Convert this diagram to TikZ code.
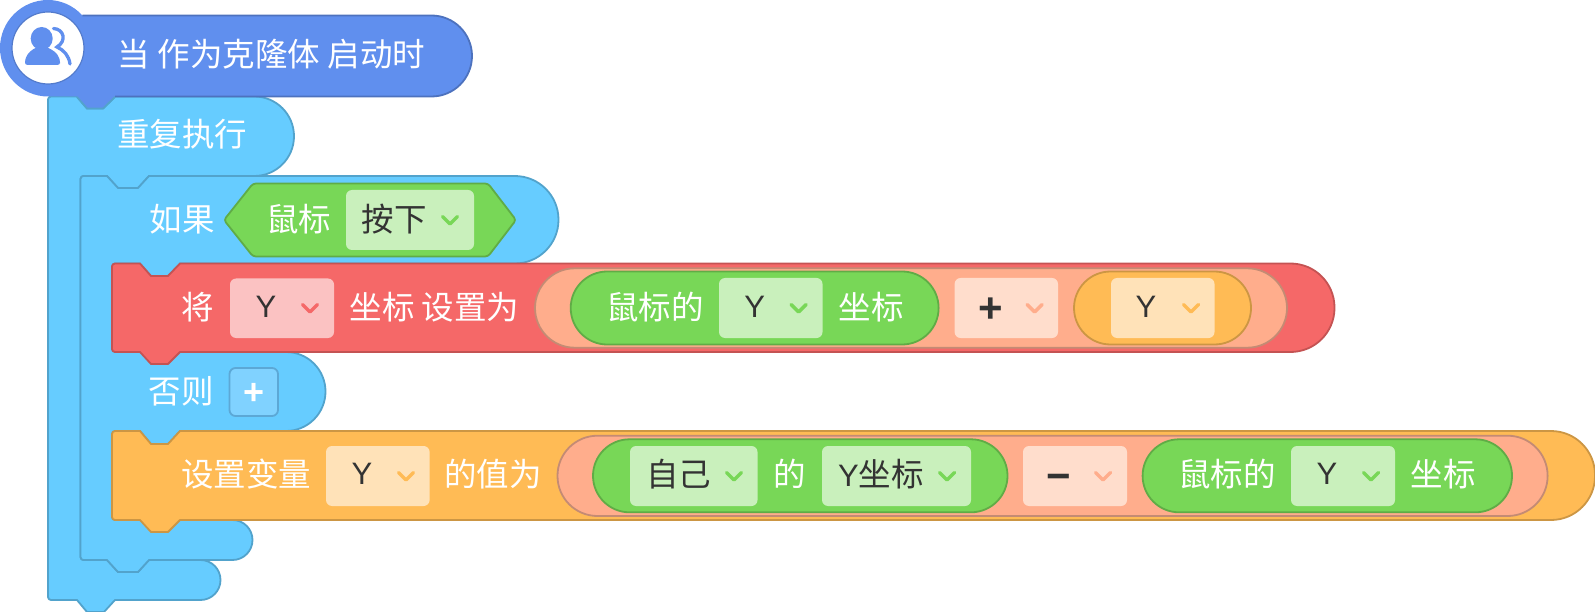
\documentclass[tikz,border=0pt]{standalone}
\usepackage{fontspec}
\setmainfont{Noto Sans CJK SC}
\newfontfamily\latf{Liberation Sans}
\definecolor{hatF}{HTML}{608FEE}\definecolor{hatD}{HTML}{4D72BE}
\definecolor{bluF}{HTML}{66CCFF}\definecolor{bluD}{HTML}{52A3CC}\definecolor{bluL}{HTML}{80D2FF}\definecolor{bluB}{HTML}{5CA8D6}
\definecolor{redF}{HTML}{F56868}\definecolor{redD}{HTML}{C45353}\definecolor{redL}{HTML}{FBC2C2}
\definecolor{orgF}{HTML}{FFBB55}\definecolor{orgD}{HTML}{CC9644}\definecolor{orgL}{HTML}{FFE2B8}
\definecolor{grnF}{HTML}{78D757}\definecolor{grnD}{HTML}{60AC46}\definecolor{grnL}{HTML}{C9F0BC}
\definecolor{salF}{HTML}{FFAD8C}\definecolor{salD}{HTML}{C48B74}\definecolor{salL}{HTML}{FFDDCC}
\definecolor{dark}{HTML}{333333}
\tikzset{
  blk/.style={line width=1.8pt,line join=round},
  wt/.style={text=white,font=\fontsize{32.5}{33}\selectfont,anchor=base,inner sep=0pt},
  dk/.style={text=dark,font=\fontsize{32.5}{33}\selectfont,anchor=base,inner sep=0pt},
  ya/.style={text=dark,font=\latf\fontsize{31}{31}\selectfont,anchor=base,inner sep=0pt},
  op/.style={text=dark,font=\latf\bfseries\fontsize{42}{42}\selectfont,anchor=base,inner sep=0pt},
  chev/.style={line width=3.5pt,line cap=round,line join=round,draw=#1},
}
\newcommand\fld[5]{\fill[#5,rounded corners=6pt] (#1,#3) rectangle (#2,#4);}
\newcommand\chv[3]{\draw[chev=#3] (#1-7.5,#2-3.5) -- (#1,#2+4) -- (#1+7.5,#2-3.5);}
\begin{document}
\begin{tikzpicture}[x=1pt,y=-1pt]
\useasboundingbox (0,0) rectangle (1595,612);
% outer forever C
\draw[blk,fill=bluF,draw=bluD] (52,96.5) -- (77,96.5) -- (87,108.5) -- (103,108.5) -- (115,96.5)
  [rounded corners=39.7pt] -- (294,96.5) -- (294,176) [sharp corners] -- (149,176) -- (138,188) -- (118,188) -- (107,176) -- (84,176)
  [rounded corners=3pt] -- (80.5,176) -- (80.5,560) [sharp corners] -- (107,560) -- (118,572) -- (138,572) -- (149,560)
  [rounded corners=20pt] -- (220.5,560) -- (220.5,600) [sharp corners] -- (115,600) -- (104,612) -- (87,612) -- (77,600)
  [rounded corners=3pt] -- (48,600) -- (48,96.5) -- (77,96.5);
% if/else C, with the tabs its two bars drop into the blocks below them
\draw[blk,fill=bluF,draw=bluD] (84,176) -- (107,176) -- (118,188) -- (138,188) -- (149,176)
  [rounded corners=43.7pt] -- (558.5,176) -- (558.5,263.5) [sharp corners] -- (180,263.5) -- (168,276) -- (151,276) -- (140,263.5) -- (116,263.5)
  [rounded corners=3pt] -- (112,263.5) -- (112,352) [sharp corners] -- (150,352)
  [rounded corners=39.5pt] -- (325.5,352) -- (325.5,431) [sharp corners] -- (180,431) -- (168,444) -- (151,444) -- (140,431) -- (116,431)
  [rounded corners=3pt] -- (112,431) -- (112,520) [sharp corners] -- (150,520)
  [rounded corners=20pt] -- (252.5,520) -- (252.5,560) [sharp corners] -- (149,560) -- (138,572) -- (118,572) -- (107,560)
  [rounded corners=3pt] -- (80.5,560) -- (80.5,176) -- (84,176);
% red block
\draw[blk,fill=redF,draw=redD] (116,263.5) -- (140,263.5) -- (151,276) -- (168,276) -- (180,263.5)
  [rounded corners=44pt] -- (1334.5,263.5) -- (1334.5,352) [sharp corners] -- (180,352) -- (168,364) -- (151,364) -- (140,352)
  [rounded corners=3pt] -- (112,352) -- (112,263.5) -- (116,263.5);
% orange block
\draw[blk,fill=orgF,draw=orgD] (116,431) -- (140,431) -- (151,444) -- (168,444) -- (180,431)
  [rounded corners=44pt] -- (1595,431) -- (1595,520) [sharp corners] -- (180,520) -- (168,532) -- (151,532) -- (140,520)
  [rounded corners=3pt] -- (112,520) -- (112,431) -- (116,431);
% hat: fill, then stroke only along its body
\fill[hatF] (82.4,15.5)
  [rounded corners=40.5pt] -- (472,15.5) -- (472,96.5) [sharp corners] -- (115,96.5) -- (103,108.5) -- (87,108.5) -- (77,96.5)
  -- (48,96.5) .. controls (21.5,96.5) and (0,74) .. (0,48) .. controls (0,21.5) and (21.5,0) .. (48,0) .. controls (60,0) and (73,5) .. (82.4,15.5);
\draw[blk,draw=hatD] (82.4,15.5)
  [rounded corners=40.5pt] -- (472,15.5) -- (472,96.5) [sharp corners] -- (115,96.5);
\draw[blk,draw=bluD] (115,97) -- (103,108.5) -- (87,108.5) -- (77,97);
\draw[line width=1.2pt,draw=hatD!70!hatF,fill=white] (48,48) circle[radius=36];
% person icon
\fill[hatF] (41.7,38.5) ellipse[x radius=11,y radius=11.5];
\fill[hatF,rounded corners=2.5pt] (25,65) -- (25,61) .. controls (27,53) and (33,49) .. (38,47) -- (46,47) .. controls (51,49) and (58,53) .. (60,61) -- (60,65) -- cycle;
\draw[hatF,line width=3.3pt,line cap=round] (53.5,28.5) .. controls (64,29) and (67,41) .. (57,47) .. controls (64,50) and (69,56) .. (70,64);
% if header
\draw[blk,fill=grnF,draw=grnD,rounded corners=3pt] (224,220) -- (253,183.5) -- (488,183.5) -- (516,220) -- (488,256.5) -- (253,256.5) -- cycle;
\fld{346}{474}{190}{250}{grnL}
\chv{450}{220}{grnF}
% red row
\fld{230}{334}{278.5}{338}{redL}
\chv{310}{308}{redF}
\draw[blk,fill=salF,draw=salD,rounded corners=39.7pt] (535,268.3) rectangle (1287,347.7);
\draw[blk,fill=grnF,draw=grnD,rounded corners=36.5pt] (570.7,271.5) rectangle (938.6,344.5);
\fld{719}{822.5}{278}{338}{grnL}
\chv{798.6}{308}{grnF}
\fld{954.6}{1058}{278}{338}{salL}
\chv{1034.6}{308}{salF}
\draw[blk,fill=orgF,draw=orgD,rounded corners=36.5pt] (1074,271.5) rectangle (1251,344.5);
\fld{1111}{1214.5}{278}{338}{orgL}
\chv{1191}{308}{orgF}
% else button
\draw[blk,fill=bluL,draw=bluB,rounded corners=6pt] (229.5,368) rectangle (278,416);
% orange row
\fld{326}{429.6}{446}{506}{orgL}
\chv{406}{476}{orgF}
\draw[blk,fill=salF,draw=salD,rounded corners=40pt] (557.5,435.7) rectangle (1547.6,516);
\draw[blk,fill=grnF,draw=grnD,rounded corners=36.5pt] (593,439.3) rectangle (1007.5,512.3);
\fld{630}{757.5}{446}{506}{grnL}
\chv{734}{476}{grnF}
\fld{822}{971}{446}{506}{grnL}
\chv{947}{476}{grnF}
\fld{1023}{1127}{446}{506}{salL}
\chv{1103}{476}{salF}
\draw[blk,fill=grnF,draw=grnD,rounded corners=36.5pt] (1142.6,439.3) rectangle (1512,512.3);
\fld{1291}{1395}{446}{506}{grnL}
\chv{1371}{476}{grnF}
% texts
\node[wt] (t1) at (271.5,66.5) {当 作为克隆体 启动时};
\node[wt] (t2) at (182,147) {重复执行};
\node[wt] (t3) at (182,231.5) {如果};
\node[wt] (t4) at (298.5,231.5) {鼠标};
\node[dk] (t5) at (394,231.5) {按下};
\node[wt] (t6) at (198,319.5) {将};
\node[ya] (t7) at (266,317) {Y};
\node[wt] (t8) at (434.5,319.5) {坐标 设置为};
\node[wt] (t9) at (655,319.5) {鼠标的};
\node[ya] (t10) at (754.6,317) {Y};
\node[wt] (t11) at (871,319.5) {坐标};
\node[op] (t12) at (990.7,322) {+};
\node[ya] (t13) at (1146,317) {Y};
\node[wt] (t14) at (181,403.5) {否则};
\node[op,font=\latf\bfseries\fontsize{36}{36}\selectfont,text=white] (t15) at (254,404) {+};
\node[wt] (t16) at (246,486.5) {设置变量};
\node[ya] (t17) at (362,484.5) {Y};
\node[wt] (t18) at (493,486.5) {的值为};
\node[dk] (t19) at (678.5,486.5) {自己};
\node[wt] (t20) at (789.5,486.5) {的};
\node[dk] (t21) at (881,486.5) {\latf\fontsize{31}{31}\selectfont Y\rmfamily\fontsize{32.5}{33}\selectfont 坐标};
\node[op] (t22) at (1059,490) {−};
\node[wt] (t23) at (1227,486.5) {鼠标的};
\node[ya] (t24) at (1327,484.5) {Y};
\node[wt] (t25) at (1443,486.5) {坐标};
\end{tikzpicture}
\end{document}
